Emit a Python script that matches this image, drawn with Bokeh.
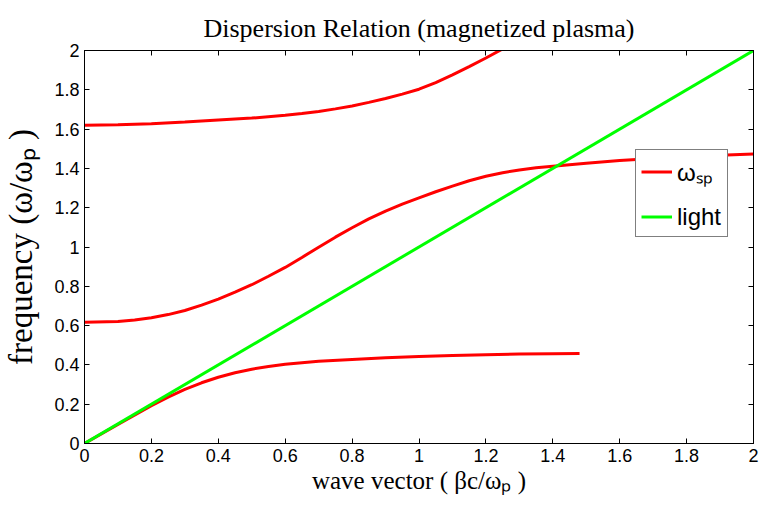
from bokeh.plotting import figure
from bokeh.models import Range1d, LinearAxis, FixedTicker, Legend, LegendItem
from bokeh.embed import file_html
from bokeh.resources import INLINE

# ---- data ----
k_upper = [0.0, 0.1, 0.2, 0.3, 0.4, 0.5, 0.6, 0.65, 0.7, 0.75, 0.8, 0.85, 0.9, 0.95, 1.0,
           1.05, 1.1, 1.15, 1.2, 1.25]
w_upper = [1.620, 1.622, 1.627, 1.636, 1.646, 1.656, 1.670, 1.679, 1.690, 1.703, 1.718, 1.736,
           1.756, 1.778, 1.803, 1.837, 1.876, 1.918, 1.962, 2.008]

k_mid = [0.0, 0.1, 0.15, 0.2, 0.25, 0.3, 0.35, 0.4, 0.45, 0.5, 0.55, 0.6, 0.65, 0.7, 0.75, 0.8,
         0.85, 0.9, 0.95, 1.0, 1.05, 1.1, 1.15, 1.2, 1.25, 1.3, 1.35, 1.4, 1.5, 1.6, 1.7, 1.8, 1.9, 2.0]
w_mid = [0.617, 0.621, 0.629, 0.640, 0.656, 0.677, 0.704, 0.735, 0.770, 0.808, 0.851, 0.896,
         0.947, 0.999, 1.050, 1.098, 1.143, 1.183, 1.218, 1.250, 1.281, 1.310, 1.337, 1.360,
         1.378, 1.392, 1.403, 1.411, 1.426, 1.440, 1.451, 1.460, 1.467, 1.473]

k_low = [0.0, 0.1, 0.2, 0.25, 0.3, 0.35, 0.4, 0.45, 0.5, 0.55, 0.6, 0.7, 0.8, 0.9, 1.0, 1.1,
         1.2, 1.3, 1.4, 1.48]
w_low = [0.0, 0.097, 0.192, 0.236, 0.275, 0.309, 0.337, 0.360, 0.378, 0.392, 0.403, 0.418,
         0.428, 0.436, 0.443, 0.448, 0.452, 0.455, 0.457, 0.458]

k_light = [0.0, 2.0]
w_light = [0.0, 2.0]

x_ticks = [0, 0.2, 0.4, 0.6, 0.8, 1, 1.2, 1.4, 1.6, 1.8, 2]
x_tick_labels = ["0", "0.2", "0.4", "0.6", "0.8", "1", "1.2", "1.4", "1.6", "1.8", "2"]
y_ticks = [0, 0.2, 0.4, 0.6, 0.8, 1, 1.2, 1.4, 1.6, 1.8, 2]
y_tick_labels = ["0", "0.2", "0.4", "0.6", "0.8", "1", "1.2", "1.4", "1.6", "1.8", "2"]

title_text = "Dispersion Relation (magnetized plasma)"
x_label = "wave vector ( \u03b2c/\u03c9\u209a )"
y_label = "frequency (\u03c9/\u03c9\u209a )"
legend_labels = ["\u03c9\u209b\u209a", "light"]

SERIF = "Liberation Serif"
SANS = "Liberation Sans"

p = figure(width=764, height=505, output_backend="svg", toolbar_location=None,
           x_range=Range1d(0, 2), y_range=Range1d(0, 2),
           min_border_left=83, min_border_right=11, min_border_top=50, min_border_bottom=62)
p.xgrid.visible = False
p.ygrid.visible = False
p.outline_line_color = "black"
p.outline_line_width = 1
p.background_fill_color = "white"
p.border_fill_color = "white"

p.title.text = title_text
p.title.text_font = SERIF
p.title.text_font_size = "26px"
p.title.text_font_style = "normal"
p.title.align = "center"
p.title.text_color = "black"
p.title.standoff = 15

xt = FixedTicker(ticks=x_ticks)
yt = FixedTicker(ticks=y_ticks)
xover = dict(zip(x_ticks, x_tick_labels))
yover = dict(zip(y_ticks, y_tick_labels))


def style_axis(ax, show_labels, ticker, overrides):
    ax.ticker = ticker
    ax.major_label_overrides = overrides
    ax.axis_line_color = "black"
    ax.axis_line_width = 1
    ax.major_tick_line_color = "black"
    ax.major_tick_in = 5
    ax.major_tick_out = 0
    ax.minor_tick_line_color = None
    ax.major_label_text_font = SANS
    ax.major_label_text_color = "black"
    ax.major_label_standoff = 5
    if show_labels:
        ax.major_label_text_font_size = "18px"
    else:
        ax.major_label_text_font_size = "0px"
        ax.major_label_text_color = None
        ax.major_label_standoff = 0


bottom_ax = p.below[0]
left_ax = p.left[0]
style_axis(bottom_ax, True, xt, xover)
style_axis(left_ax, True, yt, yover)
top_ax = LinearAxis()
right_ax = LinearAxis()
style_axis(top_ax, False, xt, xover)
style_axis(right_ax, False, yt, yover)
p.add_layout(top_ax, "above")
p.add_layout(right_ax, "right")

bottom_ax.axis_label = x_label
bottom_ax.axis_label_text_font = SERIF
bottom_ax.axis_label_text_font_size = "25px"
bottom_ax.axis_label_text_font_style = "normal"
bottom_ax.axis_label_text_color = "black"
bottom_ax.axis_label_standoff = 2

left_ax.axis_label = y_label
left_ax.axis_label_text_font = SERIF
left_ax.axis_label_text_font_size = "33px"
left_ax.axis_label_text_font_style = "normal"
left_ax.axis_label_text_color = "black"
left_ax.axis_label_standoff = 12

r_up = p.line(k_upper, w_upper, line_color="#ff0000", line_width=3)
r_mid = p.line(k_mid, w_mid, line_color="#ff0000", line_width=3)
r_low = p.line(k_low, w_low, line_color="#ff0000", line_width=3)
r_light = p.line(k_light, w_light, line_color="#00ff00", line_width=3)

legend = Legend(items=[LegendItem(label=legend_labels[0], renderers=[r_mid]),
                       LegendItem(label=legend_labels[1], renderers=[r_light])],
                location=(551, 206), orientation="vertical",
                border_line_color="black", border_line_width=1, background_fill_alpha=1,
                label_text_font=SANS, label_text_font_size="24px", label_text_color="black",
                glyph_width=31, glyph_height=29, label_height=29, label_width=45,
                label_standoff=5, padding=5, spacing=14, margin=0)
p.add_layout(legend, "center")

open("out.html", "w").write(file_html(p, INLINE))
